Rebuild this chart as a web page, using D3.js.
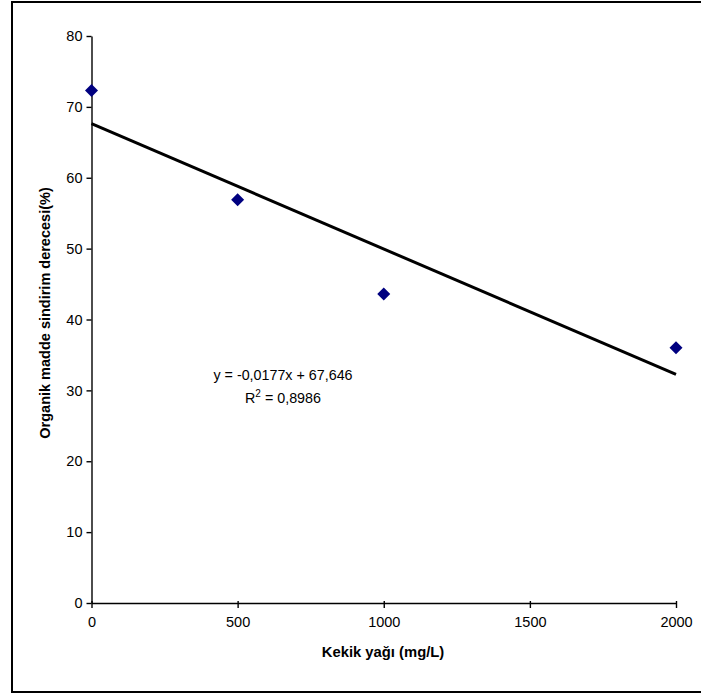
<!DOCTYPE html>
<html>
<head>
<meta charset="utf-8">
<script src="https://cdn.jsdelivr.net/npm/d3@7"></script>
<style>
  html, body { margin: 0; padding: 0; background: #fff; }
  svg { display: block; font-family: "Liberation Sans", Arial, sans-serif; }
</style>
</head>
<body>
<svg id="chart" width="701" height="696"></svg>
<script>
// Kekik yağı dozu (mg/L) ve organik madde sindirim derecesi (%)
const doses = [0, 500, 1000, 2000];
const digestibility = [72.3, 56.9, 43.6, 36.0];

// Doğrusal eğilim çizgisi katsayıları
const slope = -0.0177;
const intercept = 67.646;
const equationLines = ["y = -0,0177x + 67,646", "R² = 0,8986"];

const xTicks = [0, 500, 1000, 1500, 2000];
const yTicks = [0, 10, 20, 30, 40, 50, 60, 70, 80];

const xTitle = "Kekik yağı (mg/L)";
const yTitle = "Organik madde sindirim derecesi(%)";

const svg = d3.select("#chart");

// Dış çerçeve
svg.append("rect")
  .attr("x", 12).attr("y", 2)
  .attr("width", 702).attr("height", 690)
  .attr("fill", "none").attr("stroke", "#000").attr("stroke-width", 2);

const x = d3.scaleLinear().domain([0, 2000]).range([91.5, 676]);
const y = d3.scaleLinear().domain([0, 80]).range([603, 36]);

// Y ekseni
const yAxis = svg.append("g")
  .attr("transform", `translate(${x(0)},0)`)
  .call(d3.axisLeft(y).tickValues(yTicks).tickFormat(d3.format("d"))
    .tickSize(5).tickPadding(4).tickSizeOuter(0));

// X ekseni
const xAxis = svg.append("g")
  .attr("transform", `translate(0,${y(0)})`)
  .call(d3.axisBottom(x).tickValues(xTicks).tickFormat(d3.format("d"))
    .tickSize(5).tickPadding(9).tickSizeOuter(0));

[xAxis, yAxis].forEach(g => {
  g.select(".domain").attr("stroke", "#000").attr("stroke-width", 1.4);
  g.selectAll(".tick line").attr("stroke", "#000").attr("stroke-width", 1.4);
  g.selectAll(".tick text")
    .attr("fill", "#000")
    .style("font-size", "14.5px")
    .style("font-family", "'Liberation Sans', Arial, sans-serif");
});
// Sıfır noktasında eksen çizgisini kesen küçük işaret
yAxis.selectAll(".tick").filter(d => d === 0).select("line").attr("x2", -5);
xAxis.selectAll(".tick line").attr("y1", -2);

// Eğilim çizgisi
svg.append("line")
  .attr("x1", x(0)).attr("y1", y(intercept))
  .attr("x2", x(2000)).attr("y2", y(intercept + slope * 2000))
  .attr("stroke", "#000").attr("stroke-width", 3);

// Veri noktaları (baklava biçimli)
const diamond = d3.symbol().type(d3.symbolSquare).size(85);
svg.append("g").selectAll("path")
  .data(doses.map((d, i) => ({ dose: d, value: digestibility[i] })))
  .join("path")
  .attr("d", diamond)
  .attr("transform", d => `translate(${x(d.dose)},${y(d.value)}) rotate(45)`)
  .attr("fill", "#000080");

// Denklem ve R² metni
svg.append("text")
  .attr("x", 283).attr("y", 380)
  .attr("text-anchor", "middle")
  .style("font-size", "14.3px")
  .attr("fill", "#000")
  .text(equationLines[0]);
const r2 = svg.append("text")
  .attr("x", 283).attr("y", 403)
  .attr("text-anchor", "middle")
  .style("font-size", "14.3px")
  .attr("fill", "#000");
r2.append("tspan").text("R");
r2.append("tspan").attr("dy", -6).style("font-size", "10px").text("2");
r2.append("tspan").attr("dy", 6).text(" = 0,8986");

// Eksen başlıkları
svg.append("text")
  .attr("x", 383).attr("y", 657)
  .attr("text-anchor", "middle")
  .style("font-size", "14.8px").style("font-weight", "bold")
  .text(xTitle);

svg.append("text")
  .attr("transform", "translate(50,313) rotate(-90)")
  .attr("text-anchor", "middle")
  .style("font-size", "14.5px").style("font-weight", "bold")
  .text(yTitle);
</script>
</body>
</html>
